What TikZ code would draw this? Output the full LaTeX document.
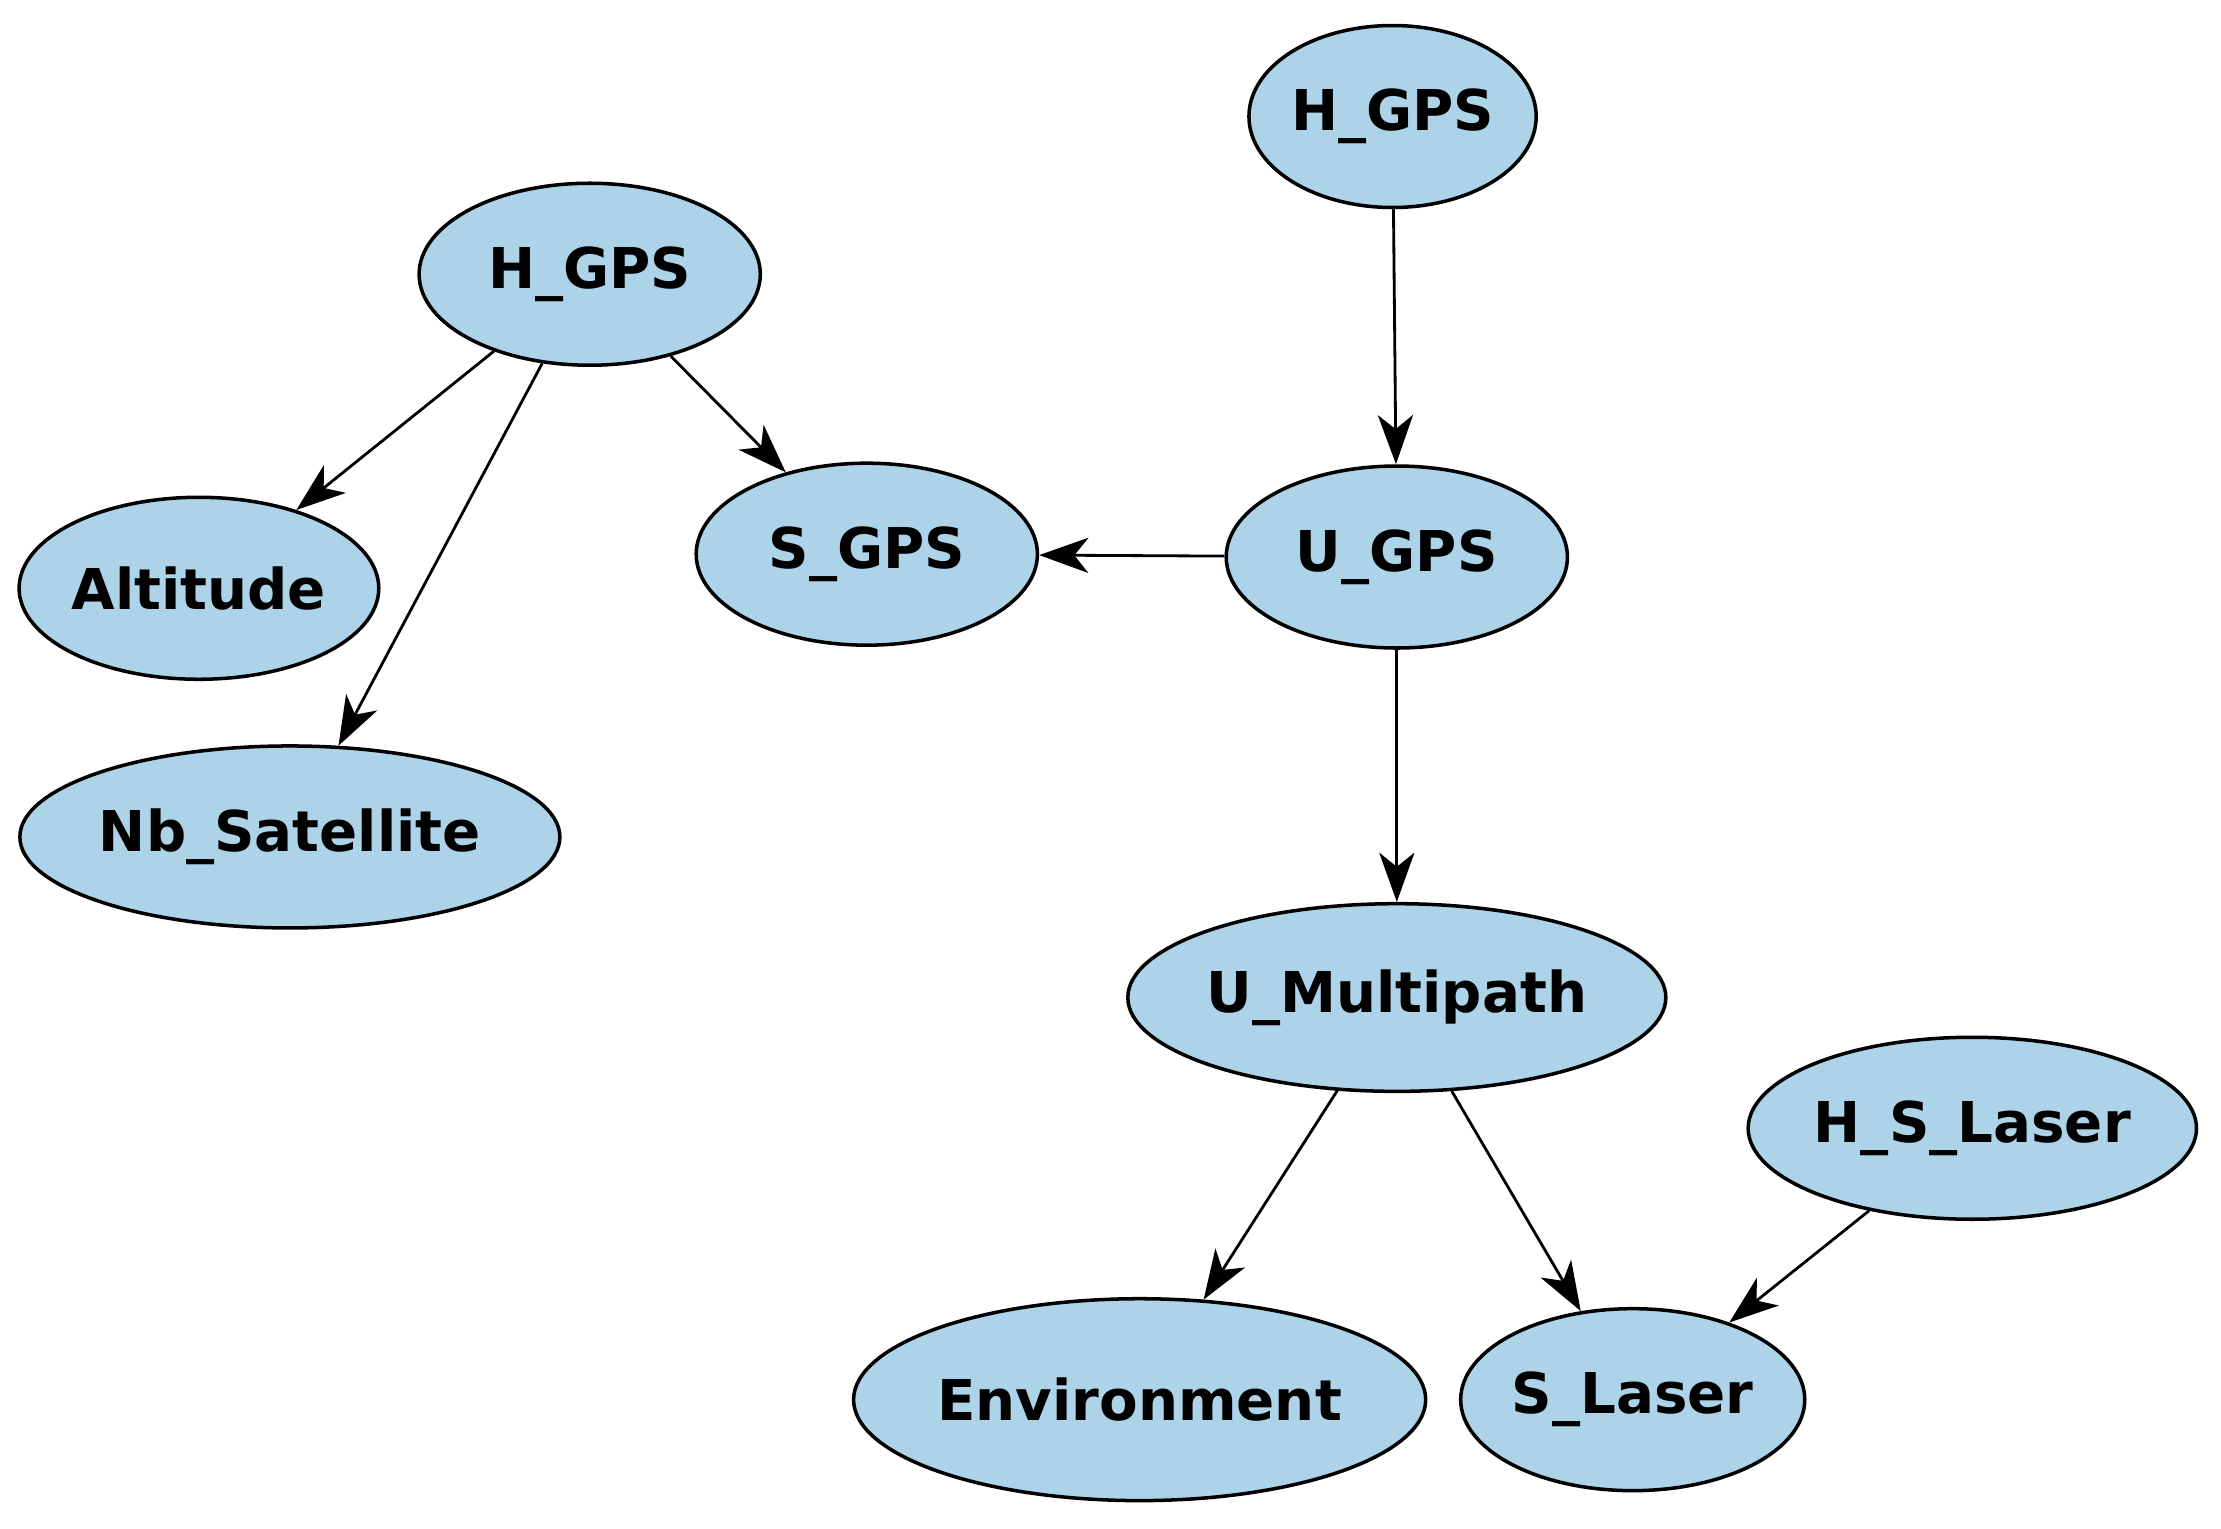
\documentclass[tikz,border=0pt]{standalone}
\usepackage{fontspec}
\setmainfont{DejaVu Sans}
\usetikzlibrary{shapes.geometric,arrows.meta}
\begin{document}
\begin{tikzpicture}[x=0.01421cm,y=-0.01421cm,
  nd/.style={ellipse,draw,line width=1pt,fill=lb,inner sep=0pt,font=\fontsize{16}{19}\selectfont\bfseries},
  ar/.style={line width=0.8pt,-{Stealth[length=14pt,width=10pt,inset=4pt]}}]
\definecolor{lb}{HTML}{ADD3E8}
\useasboundingbox (0,0) rectangle (1563,1076);
\newcommand{\E}[5]{\node[nd,minimum width=#4*0.02842cm,minimum height=#5*0.02842cm] (#1) at #2 {#3};}
\E{ht}{(980,82)}{H\_GPS}{98}{64}
\E{hl}{(415,193)}{H\_GPS}{120}{64}
\E{alt}{(140,414)}{Altitude}{120}{64}
\E{nb}{(204,589)}{Nb\_Satellite}{167}{64}
\E{sg}{(610,390)}{S\_GPS}{120}{64}
\E{ug}{(983,392)}{U\_GPS}{120}{64}
\E{um}{(983,702)}{U\_Multipath}{162}{66}
\E{hsl}{(1388,794)}{H\_S\_Laser}{157}{64}
\E{env}{(802,985)}{Environment}{198}{71}
\E{sl}{(1149,985)}{S\_Laser}{121}{64}
\draw[ar] (hl) -- (alt);
\draw[ar] (hl) -- (nb);
\draw[ar] (hl) -- (sg);
\draw[ar] (ht) -- (ug);
\draw[ar] (ug) -- (sg);
\draw[ar] (ug) -- (um);
\draw[ar] (um) -- (env);
\draw[ar] (um) -- (sl);
\draw[ar] (hsl) -- (sl);
\end{tikzpicture}
\end{document}
